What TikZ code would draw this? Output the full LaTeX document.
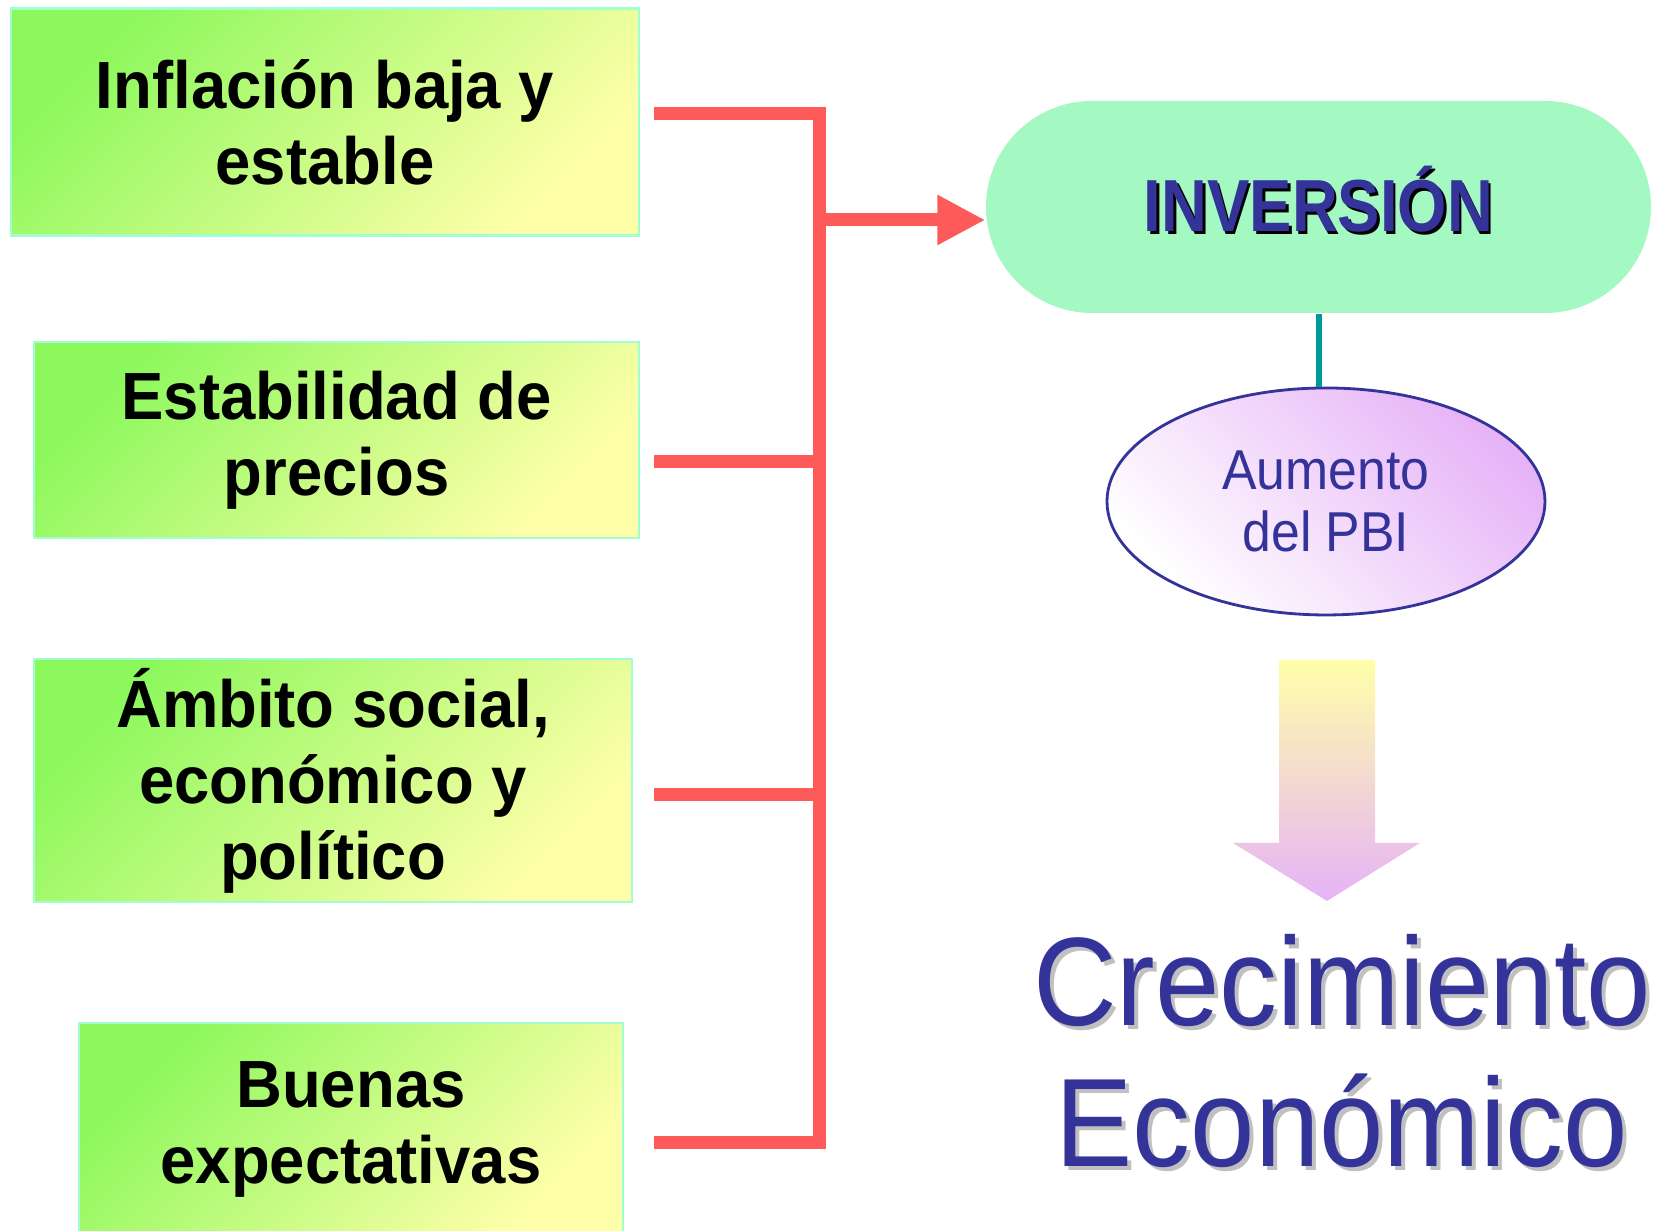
\documentclass[tikz,border=0pt]{standalone}
\usepackage{fontspec}
\setmainfont{Liberation Sans}
\newfontfamily\boxfam[FakeStretch=0.95]{Liberation Sans}
\newfontfamily\invfam[FakeStretch=0.86]{Liberation Sans}
\newfontfamily\crecfam[FakeStretch=0.92]{Liberation Sans}
\usepackage{xcolor}
\usetikzlibrary{arrows.meta,shapes.geometric}

\definecolor{boxgreen}{HTML}{8CF85C}
\definecolor{boxyellow}{HTML}{FFFFAA}
\definecolor{boxline}{HTML}{A0FFD0}
\definecolor{invfill}{HTML}{A3F9C1}
\definecolor{textblue}{HTML}{333399}
\definecolor{pbipurple}{HTML}{E6B3F7}
\definecolor{linkred}{HTML}{FF5A5A}
\definecolor{tealline}{HTML}{009999}
\definecolor{shadowgray}{HTML}{C0C0C0}

% text with an offset shadow behind it
\newcommand{\shtext}[3]{\makebox[0pt][l]{\hspace{#2}\raisebox{-#2}{\color{#1}#3}}#3}

\begin{document}
\begin{tikzpicture}[
    factor/.style={rectangle, draw=boxline, line width=0.6pt, left color=boxgreen, right color=boxyellow, shading angle=45, inner sep=0pt, align=center, font=\boxfam\bfseries\fontsize{19}{21.6}\selectfont},
    link/.style={draw=linkred, line width=0.13cm}
]
        \useasboundingbox (0,0) rectangle (16.62,12.31);

        % factores
            \node (b1) at (3.25,11.09) [factor, minimum width=6.28cm, minimum height=2.27cm] {Inflación baja y\\estable};
            \node (b2) at (3.365,7.91) [factor, minimum width=6.05cm, minimum height=1.96cm] {Estabilidad de\\precios};
            \node (b3) at (3.33,4.505) [factor, minimum width=5.98cm, minimum height=2.43cm] {Ámbito social,\\económico y\\político};
            \node (b4) at (3.51,1.015) [factor, minimum width=5.44cm, minimum height=2.13cm] {Buenas\\expectativas};

            \node (inv) at (13.185,10.24) [rectangle, rounded corners=1.06cm, fill=invfill, minimum width=6.65cm, minimum height=2.12cm, inner sep=0pt, text depth=0.16cm, text=textblue, font=\invfam\bfseries\fontsize{21}{24}\selectfont] {\shtext{black}{0.025cm}{INVERSIÓN}};
            \node (pbi) at (13.26,7.295) [ellipse, draw=textblue, line width=0.8pt, top color=pbipurple, bottom color=white, shading angle=-45, minimum width=4.38cm, minimum height=2.27cm, inner sep=0pt, align=center, text=textblue, font=\crecfam\fontsize{16}{17.8}\selectfont] {Aumento\\del PBI};
            \node (crec) at (13.42,1.78) [align=center, text=textblue, font=\crecfam\fontsize{35.8}{40}\selectfont] {\shtext{shadowgray}{0.04cm}{Crecimiento}\\\shtext{shadowgray}{0.04cm}{Económico}};

        % llave roja
            \coordinate (s1) at (6.54,11.17);
            \coordinate (s2) at (6.54,7.69);
            \coordinate (s3) at (6.54,4.36);
            \coordinate (s4) at (6.54,0.88);
            \coordinate (bar) at (8.19,10.11);
            \draw[link] (s1) -- (s1 -| bar) -- (s4 -| bar) -- (s4);
            \draw[link] (s2) -- (s2 -| bar);
            \draw[link] (s3) -- (s3 -| bar);
            \draw[link, -{Triangle[length=0.48cm,width=0.47cm]}] (bar) -- (bar -| inv.west);

            \draw[tealline, line width=0.06cm] (inv.south) -- (inv.south |- pbi.north);

        % flecha hacia abajo
            \shade[top color=boxyellow, bottom color=pbipurple] (12.79,5.71) -- (13.75,5.71) -- (13.75,3.88) -- (14.20,3.88) -- (13.27,3.30) -- (12.33,3.88) -- (12.79,3.88) -- cycle;

        \end{tikzpicture}
\end{document}
